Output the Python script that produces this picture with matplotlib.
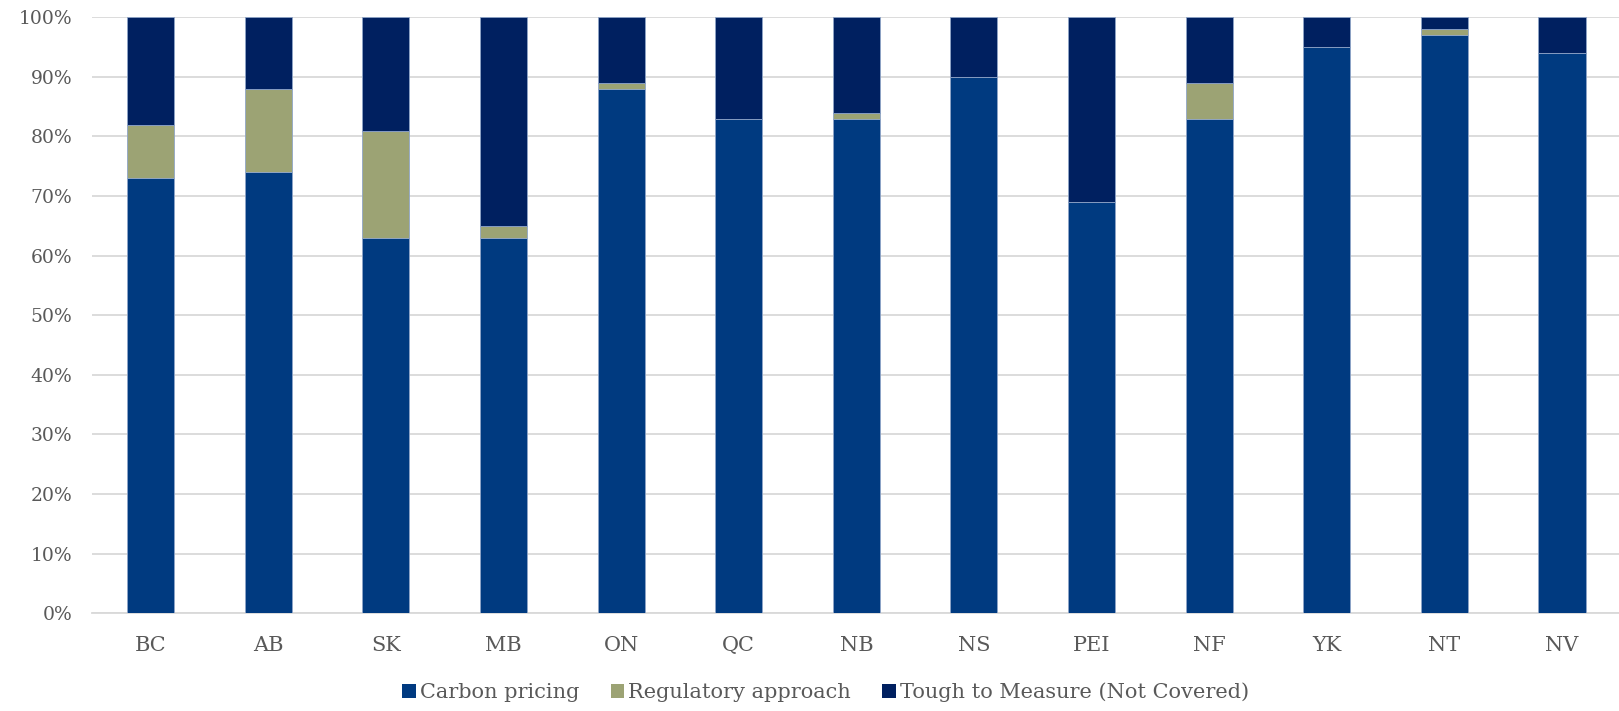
import numpy as np
import matplotlib.pyplot as plt
from matplotlib.patches import Patch
from matplotlib.ticker import PercentFormatter

provinces = ['BC', 'AB', 'SK', 'MB', 'ON', 'QC', 'NB', 'NS', 'PEI', 'NF', 'YK', 'NT', 'NV']
carbon_pricing = [73, 74, 63, 63, 88, 83, 83, 90, 69, 83, 95, 97, 94]
regulatory = [9, 14, 18, 2, 1, 0, 1, 0, 0, 6, 0, 1, 0]
tough_to_measure = [18, 12, 19, 35, 11, 17, 16, 10, 31, 11, 5, 2, 6]

series_names = ['Carbon pricing', 'Regulatory approach', 'Tough to Measure (Not Covered)']
colors = ['#003A80', '#9CA374', '#002060']

plt.rcParams['font.family'] = ['DejaVu Serif']

fig = plt.figure(figsize=(16.19, 7.11), dpi=100)
ax = fig.add_axes([0.0568, 0.1374, 0.9443, 0.8383])

x = np.arange(len(provinces))
bottom = np.zeros(len(provinces))
for vals, c in zip([carbon_pricing, regulatory, tough_to_measure], colors):
    vals = np.array(vals, dtype=float)
    ax.bar(x, vals, 0.40, bottom=bottom, color=c, edgecolor='#8FA5C8',
           linewidth=0.6, zorder=3)
    bottom += vals

ax.set_xlim(-0.5, len(provinces) - 0.5)
ax.set_ylim(0, 100)
ax.set_yticks(np.arange(0, 101, 10))
ax.yaxis.set_major_formatter(PercentFormatter(decimals=0))
ax.set_xticks(x)
ax.set_xticklabels(provinces)
ax.grid(axis='y', color='#D9D9D9', linewidth=1.3, zorder=0)
for s in ['top', 'right', 'left']:
    ax.spines[s].set_visible(False)
ax.spines['bottom'].set_color('#D9D9D9')
ax.spines['bottom'].set_linewidth(1.3)
ax.tick_params(axis='both', length=0, colors='#595959')
ax.tick_params(axis='x', labelsize=15, pad=16)
ax.tick_params(axis='y', labelsize=13.5, pad=14)

handles = [Patch(facecolor=c, label=n) for c, n in zip(colors, series_names)]
fig.legend(handles=handles, loc='center', bbox_to_anchor=(0.51, 0.026), ncol=3,
           frameon=False, fontsize=15, handlelength=0.65, handleheight=0.65,
           handletextpad=0.2, columnspacing=1.5, labelcolor='#595959',
           borderpad=0)

fig.savefig('out.png', dpi=100)
